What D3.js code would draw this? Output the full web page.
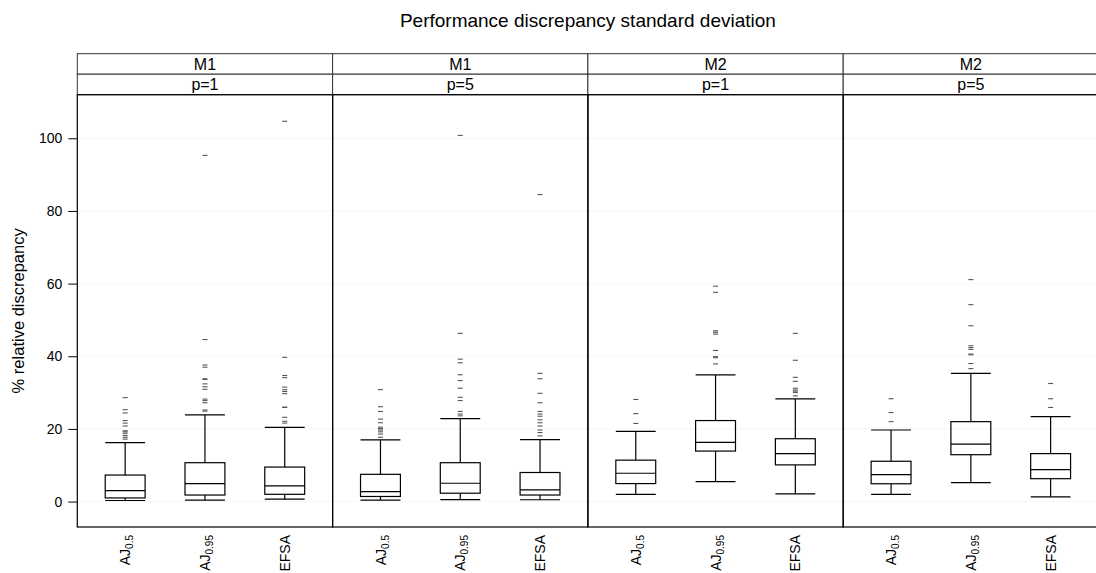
<!DOCTYPE html>
<html>
<head>
<meta charset="utf-8">
<script src="https://cdn.jsdelivr.net/npm/d3@7/dist/d3.min.js"></script>
<style>
  html, body { margin: 0; padding: 0; background: #fff; }
  svg { display: block; font-family: "Liberation Sans", Arial, Helvetica, sans-serif; }
</style>
</head>
<body>
<svg id="chart" width="1096" height="573"></svg>
<script>
// Panel conditioning labels (upper and lower strip)
const models = ["M1", "M1", "M2", "M2"];
const pLabels = ["p=1", "p=5", "p=1", "p=5"];

// Methods on the x axis: base text and subscript
const methodBase = ["AJ", "AJ", "EFSA"];
const methodSub = ["0.5", "0.95", ""];

// Box statistics, panel by panel, methods in order AJ0.5, AJ0.95, EFSA
const whiskerLow  = [0.3, 0.4, 0.65,   0.4, 0.55, 0.5,   2.0, 5.5, 2.1,    2.0, 5.2, 1.3];
const quart1      = [1.0, 1.8, 2.0,    1.4, 2.3, 1.8,    4.95, 13.9, 10.1, 4.9, 12.9, 6.3];
const medians     = [3.0, 4.95, 4.3,   2.75, 5.05, 3.2,  7.8, 16.3, 13.2,  7.4, 15.8, 8.8];
const quart3      = [7.3, 10.7, 9.5,   7.5, 10.7, 8.0,   11.4, 22.3, 17.3, 11.1, 22.0, 13.2];
const whiskerHigh = [16.2, 23.85, 20.45, 17.0, 22.85, 17.05, 19.3, 34.85, 28.25, 19.7, 35.3, 23.4];

// Outlying values beyond the whiskers
const outliers = [
  [28.6, 25.3, 24.4, 22.3, 21.6, 20.8, 19.5, 19.2, 18.8, 18.2, 17.7, 17.2],
  [95.3, 44.6, 37.6, 37.0, 33.8, 33.6, 32.4, 31.6, 30.9, 28.2, 27.8, 27.2, 25.2, 24.9],
  [104.7, 39.7, 34.7, 34.1, 31.5, 30.8, 30.3, 29.7, 26.0, 25.9, 23.2, 22.1, 21.6],
  [30.8, 26.1, 24.8, 22.7, 21.7, 20.5, 20.1, 19.7, 19.2, 18.6, 17.7],
  [100.8, 46.3, 39.2, 38.2, 34.9, 33.3, 31.2, 28.7, 27.8, 24.8, 24.1, 23.6],
  [84.5, 35.3, 33.8, 29.8, 27.2, 24.8, 24.1, 23.5, 22.5, 21.7, 20.8, 19.7, 19.0, 18.1],
  [28.1, 24.2, 21.5],
  [59.3, 57.6, 47.0, 46.6, 46.1, 41.6, 39.9, 39.6, 37.9],
  [46.3, 38.9, 34.2, 33.1, 31.2, 30.7, 30.4, 30.0, 29.1],
  [28.3, 24.5, 22.0],
  [61.1, 54.2, 48.4, 42.9, 42.4, 41.9, 40.6, 40.4, 38.0, 36.6],
  [32.5, 28.3, 25.9]
];

const yTicks = [0, 20, 40, 60, 80, 100];

const svg = d3.select("#chart");

// Layout
const left = 77.3, panelW = 255.3;
const stripTop = 53.7, stripH = 20.5;
const plotTop = stripTop + 2 * stripH, plotBottom = 527;
const nPanels = models.length;

const y = d3.scaleLinear().domain([-7, 112]).range([plotBottom, plotTop]);
const panelX = i => left + i * panelW;
const xInPanel = i => d3.scaleLinear().domain([0.4, 3.6]).range([panelX(i), panelX(i) + panelW]);

// Title
svg.append("text")
  .attr("x", left + nPanels * panelW / 2)
  .attr("y", 27)
  .attr("text-anchor", "middle")
  .attr("font-size", 19)
  .text("Performance discrepancy standard deviation");

// Y axis label
svg.append("text")
  .attr("transform", `translate(24,${(plotTop + plotBottom) / 2}) rotate(-90)`)
  .attr("text-anchor", "middle")
  .attr("font-size", 16.5)
  .text("% relative discrepancy");

// Gridlines
const grid = svg.append("g");
grid.selectAll("line").data(yTicks).join("line")
  .attr("x1", left).attr("x2", left + nPanels * panelW)
  .attr("y1", d => y(d)).attr("y2", d => y(d))
  .attr("stroke", "#dcdcdc").attr("stroke-width", 1)
  .attr("stroke-dasharray", "1,3");

// Y axis on the left
const yAxis = svg.append("g")
  .attr("transform", `translate(${left},0)`)
  .call(d3.axisLeft(y).tickValues(yTicks).tickSize(9).tickPadding(6).tickSizeOuter(0));
yAxis.select(".domain").remove();
yAxis.selectAll(".tick line").attr("stroke", "#000");
yAxis.selectAll(".tick text").attr("font-size", 14).attr("font-family", "Liberation Sans, Arial, sans-serif").attr("fill", "#000");

// Panels
const methods = d3.range(methodBase.length);
for (let p = 0; p < nPanels; p++) {
  const x = xInPanel(p);
  const g = svg.append("g");
  const halfW = 0.25;

  const stats = methods.map(m => {
    const k = p * methods.length + m;
    return { m, lo: whiskerLow[k], q1: quart1[k], med: medians[k], q3: quart3[k], hi: whiskerHigh[k], out: outliers[k] };
  });

  // outliers as short dashes
  stats.forEach(s => {
    g.selectAll(null).data(s.out).join("line")
      .attr("x1", x(s.m + 1) - 2.5).attr("x2", x(s.m + 1) + 2.5)
      .attr("y1", d => y(d)).attr("y2", d => y(d))
      .attr("stroke", "#555").attr("stroke-width", 1.1);
  });

  const box = g.selectAll(".box").data(stats).join("g").attr("class", "box")
    .attr("stroke", "#000").attr("stroke-width", 1.2).attr("fill", "none");
  // whisker stems
  box.append("line")
    .attr("x1", d => x(d.m + 1)).attr("x2", d => x(d.m + 1))
    .attr("y1", d => y(d.hi)).attr("y2", d => y(d.q3));
  box.append("line")
    .attr("x1", d => x(d.m + 1)).attr("x2", d => x(d.m + 1))
    .attr("y1", d => y(d.q1)).attr("y2", d => y(d.lo));
  // whisker caps
  ["hi", "lo"].forEach(key => {
    box.append("line")
      .attr("x1", d => x(d.m + 1 - halfW)).attr("x2", d => x(d.m + 1 + halfW))
      .attr("y1", d => y(d[key])).attr("y2", d => y(d[key]));
  });
  // box
  box.append("rect")
    .attr("x", d => x(d.m + 1 - halfW))
    .attr("width", d => x(d.m + 1 + halfW) - x(d.m + 1 - halfW))
    .attr("y", d => y(d.q3))
    .attr("height", d => y(d.q1) - y(d.q3));
  // median
  box.append("line")
    .attr("x1", d => x(d.m + 1 - halfW)).attr("x2", d => x(d.m + 1 + halfW))
    .attr("y1", d => y(d.med)).attr("y2", d => y(d.med));

  // x labels, rotated
  const lbl = g.selectAll(".xl").data(methods).join("text")
    .attr("transform", d => `translate(${x(d + 1)},535) rotate(-90)`)
    .attr("text-anchor", "end")
    .attr("dy", "0.36em")
    .attr("font-size", 14);
  lbl.append("tspan").text(d => methodBase[d]);
  lbl.append("tspan").attr("font-size", 10).attr("dy", "0.3em").text(d => methodSub[d]);

  // strips
  [models[p], pLabels[p]].forEach((txt, r) => {
    const sy = stripTop + r * stripH;
    svg.append("rect")
      .attr("x", panelX(p)).attr("y", sy)
      .attr("width", panelW).attr("height", stripH)
      .attr("fill", "#fff").attr("stroke", "#333").attr("stroke-width", 1);
    svg.append("text")
      .attr("x", panelX(p) + panelW / 2).attr("y", sy + stripH / 2)
      .attr("dy", "0.36em").attr("text-anchor", "middle")
      .attr("font-size", 16)
      .text(txt);
  });

  // panel border
  svg.append("rect")
    .attr("x", panelX(p)).attr("y", plotTop)
    .attr("width", panelW).attr("height", plotBottom - plotTop)
    .attr("fill", "none").attr("stroke", "#000").attr("stroke-width", 1.2);
}
</script>
</body>
</html>
